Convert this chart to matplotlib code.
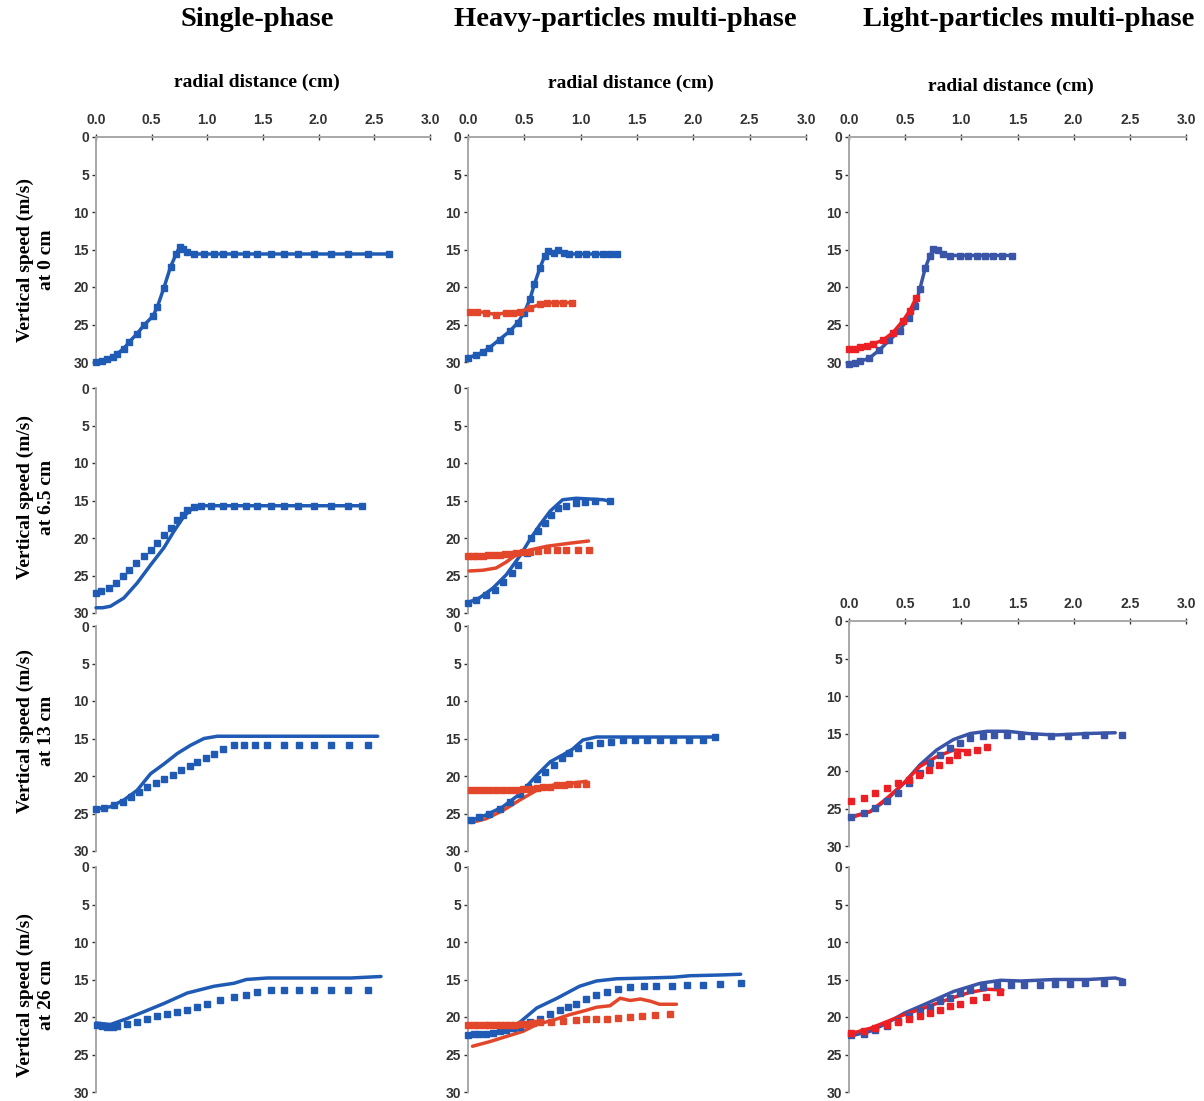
import matplotlib
matplotlib.use('Agg')
import matplotlib.pyplot as plt

# ---------------- data ----------------
col_titles = ["Single-phase", "Heavy-particles multi-phase", "Light-particles multi-phase"]
row_labels = ["Vertical speed (m/s)\nat 0 cm", "Vertical speed (m/s)\nat 6.5 cm",
              "Vertical speed (m/s)\nat 13 cm", "Vertical speed (m/s)\nat 26 cm"]
x_ticks = [0.0, 0.5, 1.0, 1.5, 2.0, 2.5, 3.0]
y_ticks = [0, 5, 10, 15, 20, 25, 30]

# Row 1 (0 cm) - line with markers
r1c1_blue_x = [0, 0.05, 0.1, 0.15, 0.19, 0.25, 0.3, 0.37, 0.43, 0.51, 0.55, 0.61, 0.67, 0.72, 0.75, 0.78, 0.82,
               0.88, 0.97, 1.06, 1.14, 1.24, 1.35, 1.45, 1.57, 1.69, 1.81, 1.96, 2.11, 2.26, 2.44, 2.63]
r1c1_blue_y = [30.0, 29.8, 29.6, 29.3, 28.9, 28.2, 27.3, 26.2, 25.1, 23.9, 22.7, 20.1, 17.3, 15.6, 14.7, 14.9, 15.3,
               15.6, 15.6, 15.6, 15.6, 15.6, 15.6, 15.6, 15.6, 15.6, 15.6, 15.6, 15.6, 15.6, 15.6, 15.6]

r1c2_blue_x = [0, 0.07, 0.13, 0.19, 0.28, 0.37, 0.44, 0.5, 0.55, 0.59, 0.64, 0.68, 0.71, 0.76, 0.8, 0.85,
               0.9, 0.98, 1.05, 1.13, 1.2, 1.26, 1.32]
r1c2_blue_y = [29.4, 29.1, 28.7, 28.1, 27.0, 25.9, 24.8, 23.4, 21.6, 19.6, 17.4, 15.9, 15.2, 15.4, 15.1, 15.5,
               15.6, 15.6, 15.6, 15.6, 15.6, 15.6, 15.6]
r1c2_red_x = [0.02, 0.08, 0.16, 0.25, 0.34, 0.4, 0.46, 0.55, 0.64, 0.7, 0.77, 0.84, 0.92]
r1c2_red_y = [23.3, 23.3, 23.4, 23.7, 23.4, 23.4, 23.3, 22.8, 22.3, 22.1, 22.1, 22.1, 22.1]

r1c3_blue_x = [0, 0.05, 0.1, 0.18, 0.27, 0.36, 0.45, 0.53, 0.59, 0.63, 0.68, 0.72, 0.75, 0.79, 0.84,
               0.9, 0.99, 1.06, 1.14, 1.21, 1.28, 1.36, 1.45]
r1c3_blue_y = [30.3, 30.1, 29.9, 29.5, 28.4, 27.1, 25.8, 24.1, 22.5, 20.3, 17.4, 15.9, 14.9, 15.1, 15.6,
               15.8, 15.8, 15.8, 15.8, 15.8, 15.8, 15.8, 15.8]
r1c3_red_x = [0, 0.05, 0.1, 0.16, 0.21, 0.3, 0.39, 0.48, 0.54, 0.6]
r1c3_red_y = [28.3, 28.2, 28.0, 27.8, 27.6, 27.1, 26.1, 24.5, 23.2, 21.4]

# Row 2 (6.5 cm)
r2c1_blue_line_x = [0, 0.06, 0.13, 0.25, 0.37, 0.49, 0.61, 0.7, 0.79, 0.87, 0.94, 1.2, 1.6, 2.0, 2.39]
r2c1_blue_line_y = [29.3, 29.3, 29.1, 28.0, 26.0, 23.6, 21.3, 19.1, 17.1, 16.0, 15.7, 15.7, 15.7, 15.7, 15.7]
r2c1_blue_pts_x = [0, 0.045, 0.12, 0.18, 0.24, 0.3, 0.36, 0.43, 0.49, 0.55, 0.61, 0.67, 0.73, 0.78, 0.82, 0.88, 0.94,
                   1.03, 1.14, 1.24, 1.35, 1.45, 1.57, 1.69, 1.81, 1.96, 2.11, 2.26, 2.39]
r2c1_blue_pts_y = [27.3, 27.1, 26.7, 26.0, 25.1, 24.2, 23.3, 22.4, 21.6, 20.7, 19.6, 18.7, 17.6, 16.9, 16.2, 15.9, 15.7,
                   15.7, 15.7, 15.7, 15.7, 15.7, 15.7, 15.7, 15.7, 15.7, 15.7, 15.7, 15.7]

r2c2_blue_line_x = [0, 0.1, 0.22, 0.34, 0.46, 0.55, 0.64, 0.73, 0.84, 0.96, 1.08, 1.2, 1.26]
r2c2_blue_line_y = [28.6, 28.0, 26.7, 24.9, 22.4, 20.2, 18.2, 16.4, 14.9, 14.7, 14.8, 14.9, 15.1]
r2c2_blue_pts_x = [0, 0.07, 0.16, 0.24, 0.31, 0.39, 0.44, 0.52, 0.56, 0.62, 0.68, 0.74, 0.8, 0.87, 0.96, 1.04, 1.13, 1.26]
r2c2_blue_pts_y = [28.6, 28.2, 27.6, 26.9, 25.8, 24.7, 23.6, 22.0, 20.0, 19.1, 18.0, 16.9, 16.0, 15.7, 15.3, 15.2, 15.0, 15.1]
r2c2_red_line_x = [0.01, 0.13, 0.25, 0.34, 0.43, 0.55, 0.7, 0.9, 1.07]
r2c2_red_line_y = [24.4, 24.3, 24.0, 23.2, 22.2, 21.6, 21.1, 20.7, 20.4]
r2c2_red_pts_x = [0, 0.04, 0.08, 0.13, 0.18, 0.23, 0.28, 0.33, 0.38, 0.43, 0.49, 0.55, 0.62, 0.7, 0.79, 0.87, 0.98, 1.07]
r2c2_red_pts_y = [22.4, 22.4, 22.4, 22.4, 22.3, 22.3, 22.2, 22.1, 22.1, 22.0, 21.9, 21.8, 21.7, 21.6, 21.6, 21.6, 21.6, 21.6]

# Row 3 (13 cm)
r3c1_blue_line_x = [0, 0.13, 0.25, 0.37, 0.49, 0.61, 0.73, 0.85, 0.97, 1.09, 1.24, 1.8, 2.53]
r3c1_blue_line_y = [24.4, 24.1, 23.2, 21.9, 19.7, 18.4, 17.0, 15.9, 15.0, 14.7, 14.7, 14.7, 14.7]
r3c1_blue_pts_x = [0, 0.07, 0.16, 0.24, 0.31, 0.39, 0.46, 0.54, 0.61, 0.69, 0.76, 0.84, 0.91, 0.99, 1.06, 1.14,
                   1.24, 1.33, 1.43, 1.54, 1.69, 1.82, 1.96, 2.11, 2.27, 2.44]
r3c1_blue_pts_y = [24.4, 24.2, 23.9, 23.5, 22.8, 22.1, 21.5, 20.9, 20.4, 19.8, 19.2, 18.7, 18.1, 17.6, 17.0, 16.4,
                   15.9, 15.9, 15.9, 15.9, 15.9, 15.9, 15.9, 15.9, 15.9, 15.9]

r3c2_blue_line_x = [0.03, 0.16, 0.31, 0.46, 0.61, 0.73, 0.84, 0.93, 1.02, 1.14, 1.44, 1.73, 2.19]
r3c2_blue_line_y = [25.9, 25.2, 24.1, 22.4, 19.9, 18.1, 17.2, 16.4, 15.2, 14.8, 14.8, 14.8, 14.8]
r3c2_blue_pts_x = [0.03, 0.1, 0.19, 0.28, 0.37, 0.46, 0.53, 0.61, 0.68, 0.76, 0.83, 0.9, 0.98, 1.07, 1.17, 1.27,
                   1.38, 1.48, 1.59, 1.7, 1.82, 1.96, 2.09, 2.19]
r3c2_blue_pts_y = [25.9, 25.5, 25.0, 24.4, 23.5, 22.4, 21.5, 20.4, 19.5, 18.5, 17.6, 16.9, 16.3, 15.9, 15.6, 15.4,
                   15.2, 15.2, 15.2, 15.2, 15.2, 15.2, 15.2, 14.8]
r3c2_red_line_x = [0.03, 0.16, 0.31, 0.46, 0.61, 0.76, 0.9, 1.05]
r3c2_red_line_y = [26.2, 25.7, 24.6, 23.2, 21.9, 21.2, 21.0, 20.7]
r3c2_red_pts_x = [0.03, 0.08, 0.13, 0.19, 0.25, 0.31, 0.37, 0.43, 0.49, 0.55, 0.61, 0.67, 0.73, 0.79, 0.85, 0.9, 0.97, 1.05]
r3c2_red_pts_y = [21.9, 21.9, 21.9, 21.9, 21.9, 21.9, 21.8, 21.8, 21.7, 21.7, 21.6, 21.5, 21.4, 21.2, 21.2, 21.1, 21.0, 21.0]

r3c3_blue_line_x = [0.02, 0.19, 0.34, 0.49, 0.63, 0.78, 0.93, 1.08, 1.23, 1.41, 1.59, 1.83, 2.13, 2.37]
r3c3_blue_line_y = [26.1, 25.4, 23.8, 21.6, 19.2, 17.2, 15.8, 15.0, 14.7, 14.7, 15.0, 15.2, 15.0, 14.9]
r3c3_blue_pts_x = [0.02, 0.13, 0.23, 0.34, 0.44, 0.53, 0.63, 0.72, 0.81, 0.9, 0.99, 1.08, 1.19, 1.29, 1.41, 1.53,
                   1.65, 1.8, 1.95, 2.1, 2.27, 2.43]
r3c3_blue_pts_y = [26.1, 25.6, 24.9, 24.0, 22.9, 21.6, 20.3, 18.9, 17.8, 16.9, 16.2, 15.6, 15.3, 15.2, 15.2, 15.3,
                   15.3, 15.3, 15.3, 15.2, 15.2, 15.2]
r3c3_red_line_x = [0.02, 0.19, 0.34, 0.49, 0.63, 0.78, 0.93, 1.05]
r3c3_red_line_y = [26.2, 25.4, 23.6, 21.6, 19.4, 18.1, 17.2, 17.3]
r3c3_red_pts_x = [0.02, 0.13, 0.23, 0.34, 0.44, 0.53, 0.62, 0.71, 0.8, 0.89, 0.96, 1.05, 1.14, 1.23]
r3c3_red_pts_y = [24.0, 23.6, 22.9, 22.3, 21.6, 21.2, 20.5, 19.8, 19.2, 18.5, 17.9, 17.5, 17.2, 16.8]

# Row 4 (26 cm)
r4c1_blue_line_x = [0, 0.13, 0.28, 0.43, 0.61, 0.82, 1.06, 1.24, 1.35, 1.54, 1.84, 2.29, 2.56]
r4c1_blue_line_y = [20.8, 21.0, 20.2, 19.3, 18.2, 16.8, 15.9, 15.5, 15.0, 14.8, 14.8, 14.8, 14.6]
r4c1_blue_pts_x = [0.01, 0.05, 0.1, 0.15, 0.19, 0.28, 0.37, 0.46, 0.55, 0.64, 0.73, 0.82, 0.91, 1.0, 1.11, 1.24,
                   1.35, 1.45, 1.57, 1.69, 1.82, 1.96, 2.11, 2.26, 2.44]
r4c1_blue_pts_y = [21.0, 21.2, 21.3, 21.3, 21.2, 20.9, 20.6, 20.3, 19.9, 19.6, 19.3, 19.0, 18.6, 18.2, 17.7, 17.3,
                   17.1, 16.6, 16.4, 16.4, 16.4, 16.4, 16.4, 16.4, 16.4]

r4c2_blue_line_x = [0, 0.16, 0.31, 0.46, 0.61, 0.79, 0.99, 1.14, 1.32, 1.59, 1.82, 1.97, 2.24, 2.42]
r4c2_blue_line_y = [22.5, 22.4, 21.9, 20.7, 18.8, 17.5, 15.9, 15.2, 14.9, 14.8, 14.7, 14.5, 14.4, 14.3]
r4c2_blue_pts_x = [0, 0.05, 0.1, 0.16, 0.22, 0.28, 0.34, 0.4, 0.46, 0.55, 0.64, 0.73, 0.82, 0.89, 0.96, 1.05, 1.14,
                   1.23, 1.33, 1.44, 1.56, 1.67, 1.81, 1.94, 2.09, 2.24, 2.42]
r4c2_blue_pts_y = [22.4, 22.3, 22.2, 22.2, 22.1, 21.9, 21.7, 21.5, 21.3, 20.7, 20.2, 19.6, 19.1, 18.6, 18.2, 17.6, 17.1,
                   16.6, 16.3, 16.0, 15.9, 15.9, 15.9, 15.7, 15.7, 15.6, 15.5]
r4c2_red_line_x = [0.04, 0.19, 0.34, 0.49, 0.61, 0.76, 0.9, 1.05, 1.14, 1.26, 1.35, 1.44, 1.53, 1.62, 1.7, 1.85]
r4c2_red_line_y = [23.9, 23.3, 22.6, 21.9, 21.0, 20.4, 19.7, 19.1, 18.7, 18.5, 17.5, 17.8, 17.6, 17.9, 18.3, 18.3]
r4c2_red_pts_x = [0, 0.05, 0.1, 0.15, 0.19, 0.24, 0.28, 0.33, 0.37, 0.42, 0.47, 0.52, 0.58, 0.64, 0.74, 0.84, 0.96,
                  1.05, 1.14, 1.23, 1.33, 1.44, 1.54, 1.66, 1.79]
r4c2_red_pts_y = [21.0, 21.0, 21.0, 21.0, 21.0, 21.0, 21.0, 21.0, 21.0, 21.0, 20.9, 20.9, 20.8, 20.7, 20.6, 20.5, 20.4,
                  20.3, 20.2, 20.2, 20.1, 20.0, 19.8, 19.7, 19.6]

r4c3_blue_line_x = [0.02, 0.19, 0.34, 0.49, 0.69, 0.93, 1.17, 1.35, 1.53, 1.83, 2.13, 2.37, 2.45]
r4c3_blue_line_y = [22.5, 21.9, 20.8, 19.5, 18.2, 16.6, 15.5, 15.1, 15.2, 15.0, 15.0, 14.8, 15.1]
r4c3_blue_pts_x = [0.02, 0.13, 0.23, 0.34, 0.44, 0.53, 0.63, 0.72, 0.81, 0.9, 0.99, 1.08, 1.19, 1.32, 1.44, 1.56,
                   1.7, 1.83, 1.97, 2.1, 2.27, 2.43]
r4c3_blue_pts_y = [22.4, 22.2, 21.7, 21.2, 20.5, 19.9, 19.2, 18.6, 17.9, 17.4, 16.8, 16.4, 16.0, 15.7, 15.7, 15.7,
                   15.7, 15.6, 15.6, 15.5, 15.5, 15.3]
r4c3_red_line_x = [0.02, 0.19, 0.34, 0.49, 0.63, 0.78, 0.93, 1.08, 1.23, 1.37]
r4c3_red_line_y = [22.2, 21.5, 20.6, 19.7, 19.0, 18.2, 17.4, 16.7, 16.3, 16.4]
r4c3_red_pts_x = [0.02, 0.13, 0.23, 0.34, 0.44, 0.53, 0.63, 0.72, 0.81, 0.9, 0.99, 1.1, 1.22, 1.34]
r4c3_red_pts_y = [22.1, 21.8, 21.5, 21.0, 20.6, 20.2, 19.8, 19.5, 19.0, 18.5, 18.2, 17.7, 17.3, 16.6]

# ---------------- styling ----------------
W, H = 1204, 1101
BLUE = '#1f5ab4'
RED_H = '#e2472b'
BLUE_L = '#3a55a8'
RED_L = '#ec2024'
SPINE = '#a8a8a8'
TICKC = '#333333'
LW = 2.5

fig = plt.figure(figsize=(W / 100, H / 100), dpi=100)

col_x0 = [96, 468, 849]
col_w = [334, 338, 337]
row_top = [137, 388, 626, 867]
PH = 225


def make_ax(c, top, show_x):
    ax = fig.add_axes([col_x0[c] / W, 1 - (top + PH) / H, col_w[c] / W, PH / H])
    ax.set_xlim(0, 3.0)
    ax.set_ylim(30, 0)
    ax.set_yticks(y_ticks)
    ax.set_yticklabels([str(v) for v in y_ticks])
    for s in ['right', 'bottom']:
        ax.spines[s].set_visible(False)
    ax.spines['left'].set_color(SPINE)
    ax.spines['left'].set_linewidth(1.4)
    ax.tick_params(axis='y', direction='out', length=3, width=1, color=TICKC, pad=2,
                   labelsize=10, labelcolor=TICKC)
    for lab in ax.get_yticklabels():
        lab.set_fontweight('bold')
        lab.set_family('Liberation Sans')
    if show_x:
        ax.spines['top'].set_color(SPINE)
        ax.spines['top'].set_linewidth(1.4)
        ax.xaxis.tick_top()
        ax.set_xticks(x_ticks)
        ax.set_xticklabels(['%.1f' % v for v in x_ticks])
        ax.tick_params(axis='x', direction='inout', length=4, width=1, color=TICKC, pad=5,
                       labelsize=10, labelcolor=TICKC)
        for lab in ax.get_xticklabels():
            lab.set_fontweight('bold')
            lab.set_family('Liberation Sans')
    else:
        ax.spines['top'].set_visible(False)
        ax.set_xticks([])
    ax.patch.set_alpha(0)
    return ax


def line(ax, x, y, color, lw=LW):
    ax.plot(x, y, color=color, lw=lw, solid_capstyle='round', solid_joinstyle='round',
            clip_on=False, zorder=3)


def pts(ax, x, y, color, ms=4.8):
    ax.plot(x, y, linestyle='none', marker='s', ms=ms, color=color, mec=color, clip_on=False, zorder=4)


def linepts(ax, x, y, color):
    ax.plot(x, y, color=color, lw=LW, marker='s', ms=4.3, mec=color, clip_on=False, zorder=3)


# Row 1
a = make_ax(0, row_top[0], True)
linepts(a, r1c1_blue_x, r1c1_blue_y, BLUE)
a = make_ax(1, row_top[0], True)
linepts(a, r1c2_blue_x, r1c2_blue_y, BLUE)
linepts(a, r1c2_red_x, r1c2_red_y, RED_H)
a = make_ax(2, row_top[0], True)
linepts(a, r1c3_blue_x, r1c3_blue_y, BLUE_L)
linepts(a, r1c3_red_x, r1c3_red_y, RED_L)

# Row 2
a = make_ax(0, row_top[1], False)
line(a, r2c1_blue_line_x, r2c1_blue_line_y, BLUE)
pts(a, r2c1_blue_pts_x, r2c1_blue_pts_y, BLUE)
a = make_ax(1, row_top[1], False)
line(a, r2c2_blue_line_x, r2c2_blue_line_y, BLUE)
pts(a, r2c2_blue_pts_x, r2c2_blue_pts_y, BLUE)
line(a, r2c2_red_line_x, r2c2_red_line_y, RED_H)
pts(a, r2c2_red_pts_x, r2c2_red_pts_y, RED_H)

# Row 3
a = make_ax(0, row_top[2], False)
line(a, r3c1_blue_line_x, r3c1_blue_line_y, BLUE)
pts(a, r3c1_blue_pts_x, r3c1_blue_pts_y, BLUE)
a = make_ax(1, row_top[2], False)
line(a, r3c2_blue_line_x, r3c2_blue_line_y, BLUE)
pts(a, r3c2_blue_pts_x, r3c2_blue_pts_y, BLUE)
line(a, r3c2_red_line_x, r3c2_red_line_y, RED_H)
pts(a, r3c2_red_pts_x, r3c2_red_pts_y, RED_H)
a = make_ax(2, 621, True)
line(a, r3c3_blue_line_x, r3c3_blue_line_y, BLUE_L)
pts(a, r3c3_blue_pts_x, r3c3_blue_pts_y, BLUE_L)
line(a, r3c3_red_line_x, r3c3_red_line_y, RED_L)
pts(a, r3c3_red_pts_x, r3c3_red_pts_y, RED_L)

# Row 4
a = make_ax(0, row_top[3], False)
line(a, r4c1_blue_line_x, r4c1_blue_line_y, BLUE)
pts(a, r4c1_blue_pts_x, r4c1_blue_pts_y, BLUE)
a = make_ax(1, row_top[3], False)
line(a, r4c2_blue_line_x, r4c2_blue_line_y, BLUE)
pts(a, r4c2_blue_pts_x, r4c2_blue_pts_y, BLUE)
line(a, r4c2_red_line_x, r4c2_red_line_y, RED_H)
pts(a, r4c2_red_pts_x, r4c2_red_pts_y, RED_H)
a = make_ax(2, row_top[3], False)
line(a, r4c3_blue_line_x, r4c3_blue_line_y, BLUE_L)
pts(a, r4c3_blue_pts_x, r4c3_blue_pts_y, BLUE_L)
line(a, r4c3_red_line_x, r4c3_red_line_y, RED_L)
pts(a, r4c3_red_pts_x, r4c3_red_pts_y, RED_L)

# Text
SERIF = 'Liberation Serif'
title_x = [257, 625, 1029]
for t, x in zip(col_titles, title_x):
    fig.text(x / W, 1 - 20 / H, t, ha='center', va='center', fontsize=20.5,
             fontweight='bold', family=SERIF)
rad_pos = [(257, 82), (631, 83), (1011, 86)]
for x, y in rad_pos:
    fig.text(x / W, 1 - y / H, 'radial distance (cm)', ha='center', va='center',
             fontsize=14, fontweight='bold', family=SERIF)
ylab_y = [260, 497, 731, 995]
for lab, y in zip(row_labels, ylab_y):
    fig.text(36 / W, 1 - y / H, lab, ha='center', va='center', rotation=90,
             fontsize=14, fontweight='bold', family=SERIF, multialignment='center',
             linespacing=1.35)

fig.savefig('out.png', dpi=100)
